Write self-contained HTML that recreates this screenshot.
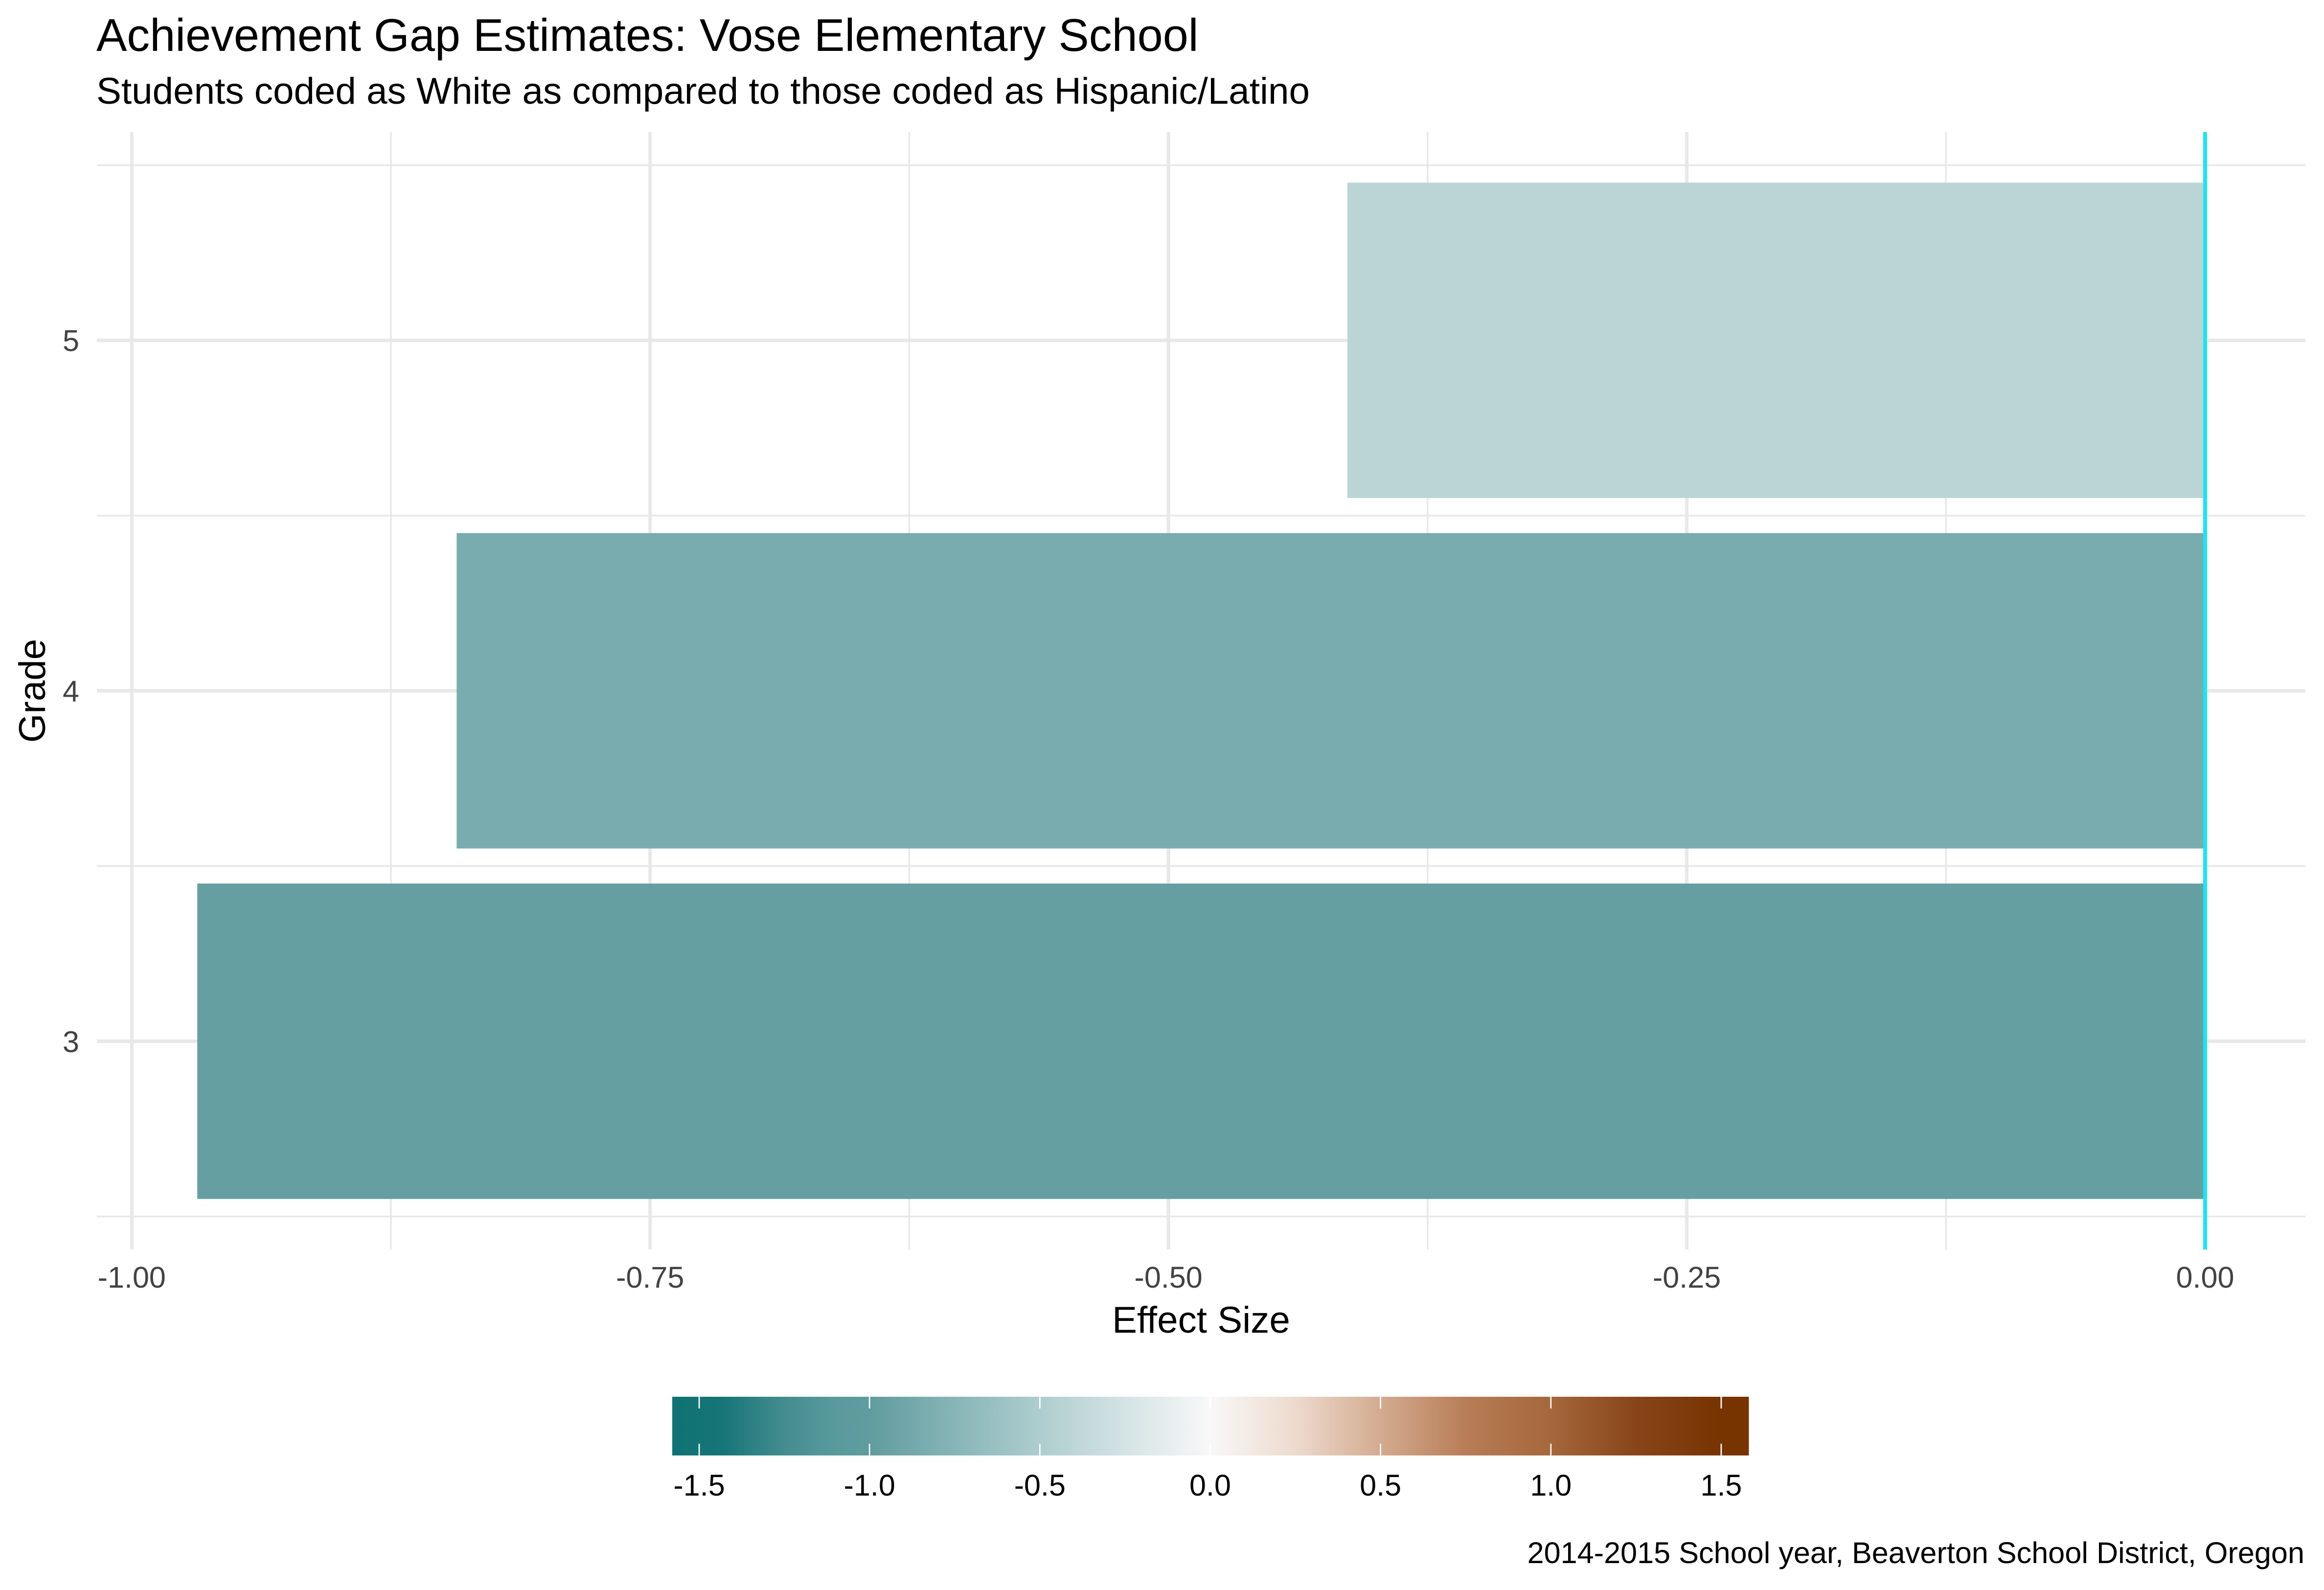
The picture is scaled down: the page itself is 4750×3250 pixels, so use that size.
<!DOCTYPE html>
<html lang="en">
<head>
<meta charset="utf-8">
<title>Achievement Gap Estimates: Vose Elementary School</title>
<style>
  html, body { margin: 0; padding: 0; background: #ffffff; }
  #chart { display: block; width: 4750px; height: 3250px; font-family: "Liberation Sans", Arial, sans-serif; }
</style>
</head>
<body>
<svg id="chart" xmlns="http://www.w3.org/2000/svg" width="4750" height="3250" viewBox="0 0 4750 3250">
  <defs>
    <linearGradient id="legend-gradient" gradientUnits="userSpaceOnUse" x1="1374" x2="3574.5" y1="0" y2="0"></linearGradient>
  </defs>
  <rect x="0" y="0" width="4750" height="3250" fill="#ffffff"/>
  <text x="197" y="104" font-size="93.6" fill="#000000">Achievement Gap Estimates: Vose Elementary School</text>
  <text x="197" y="212" font-size="76.4" fill="#000000">Students coded as White as compared to those coded as Hispanic/Latino</text>
  <g id="grid"></g>
  <g id="bars"></g>
  <g id="ref-line"></g>
  <g id="x-ticks"></g>
  <g id="y-ticks"></g>
  <text x="2455" y="2724" font-size="76.4" text-anchor="middle" fill="#000000">Effect Size</text>
  <text x="92" y="1412" font-size="76.4" text-anchor="middle" fill="#000000" transform="rotate(-90 92 1412)">Grade</text>
  <g id="legend"></g>
  <text x="4710" y="3195" font-size="61.2" text-anchor="end" fill="#000000">2014-2015 School year, Beaverton School District, Oregon</text>
</svg>
<script>
const grades = [3, 4, 5];
const effectSizes = [-0.9684, -0.8433, -0.4137];

const xMajorBreaks = [-1, -0.75, -0.5, -0.25, 0];
const xMinorBreaks = [-0.875, -0.625, -0.375, -0.125];
const xTickLabels = ['-1.00', '-0.75', '-0.50', '-0.25', '0.00'];
const yMinorBreaks = [2.5, 3.5, 4.5, 5.5];
const referenceValue = 0;

const legendBreaks = [-1.5, -1, -0.5, 0, 0.5, 1, 1.5];
const legendTickLabels = ['-1.5', '-1.0', '-0.5', '0.0', '0.5', '1.0', '1.5'];
const fillValues = [-1.58, -1.43, -1.35, -1.25, -1.11, -1, -0.75, -0.5, -0.25, 0, 0.25, 0.5, 0.75, 1, 1.25, 1.5, 1.58];
const fillColors = ['#0f7273', '#167577', '#2b8083', '#448c8f', '#589a9c', '#609c9f', '#87b5b7', '#aecdce', '#d4e3e4', '#f8f8f8', '#eddacd', '#d3ab90', '#b87d57', '#a5673b', '#88451a', '#773300', '#773300'];

const SVG_NS = 'http://www.w3.org/2000/svg';
const panel = { left: 198, right: 4712, top: 270, bottom: 2554 };
const legendBox = { left: 1374, right: 3574.5, top: 2855, bottom: 2975 };

function xScale(v) { return 269.3 + (v + 1) * 4237.7; }
function yScale(v) { return 695.7 + (5 - v) * 716.33; }
function legendScale(v) { return 2473.5 + v * 696.3; }

function hexToRgb(h) {
  return [1, 3, 5].map(function (i) { return parseInt(h.slice(i, i + 2), 16); });
}
function fillScale(v) {
  if (v <= fillValues[0]) return fillColors[0];
  for (let i = 1; i < fillValues.length; i++) {
    if (v <= fillValues[i]) {
      const t = (v - fillValues[i - 1]) / (fillValues[i] - fillValues[i - 1]);
      const a = hexToRgb(fillColors[i - 1]);
      const b = hexToRgb(fillColors[i]);
      return 'rgb(' + a.map(function (c, k) { return Math.round(c + (b[k] - c) * t); }).join(',') + ')';
    }
  }
  return fillColors[fillColors.length - 1];
}
function make(tag, attrs, parent) {
  const el = document.createElementNS(SVG_NS, tag);
  Object.keys(attrs).forEach(function (k) { el.setAttribute(k, attrs[k]); });
  parent.appendChild(el);
  return el;
}

const gridGroup = document.getElementById('grid');
const gridColor = '#e8e8e8';

yMinorBreaks.forEach(function (v) {
  const el = make('line', { x1: panel.left, x2: panel.right, y1: yScale(v), y2: yScale(v), stroke: gridColor, 'stroke-width': 3.6 }, gridGroup);
  
  
});
grades.forEach(function (v) {
  const el = make('line', { x1: panel.left, x2: panel.right, y1: yScale(v), y2: yScale(v), stroke: gridColor, 'stroke-width': 7.2 }, gridGroup);
  
  
});
xMinorBreaks.forEach(function (v) {
  const el = make('line', { x1: xScale(v), x2: xScale(v), y1: panel.top, y2: panel.bottom, stroke: gridColor, 'stroke-width': 3.6 }, gridGroup);
  
  
});
xMajorBreaks.forEach(function (v) {
  const el = make('line', { x1: xScale(v), x2: xScale(v), y1: panel.top, y2: panel.bottom, stroke: gridColor, 'stroke-width': 7.2 }, gridGroup);
  
  
});

const barGroup = document.getElementById('bars');
const barBand = 0.9;
grades.forEach(function (g, i) {
  const v = effectSizes[i];
  const x0 = xScale(Math.min(v, 0));
  const x1 = xScale(Math.max(v, 0));
  const y0 = yScale(g + barBand / 2);
  const y1 = yScale(g - barBand / 2);
  const el = make('rect', { x: x0, y: y0, width: x1 - x0, height: y1 - y0, fill: fillScale(v) }, barGroup);
  
  
});

const refGroup = document.getElementById('ref-line');
const refLine = make('line', { x1: xScale(referenceValue), x2: xScale(referenceValue), y1: panel.top, y2: panel.bottom, stroke: '#1fe4ee', 'stroke-width': 8 }, refGroup);



const xTickGroup = document.getElementById('x-ticks');
xMajorBreaks.forEach(function (v, i) {
  const el = make('text', { x: xScale(v), y: 2632, 'font-size': 61.1, 'text-anchor': 'middle', fill: '#424242' }, xTickGroup);
  el.textContent = xTickLabels[i];
  
  
});

const yTickGroup = document.getElementById('y-ticks');
grades.forEach(function (g) {
  const el = make('text', { x: 162, y: yScale(g) + 22, 'font-size': 61.1, 'text-anchor': 'end', fill: '#424242' }, yTickGroup);
  el.textContent = String(g);
  
  
});

const gradient = document.getElementById('legend-gradient');
fillValues.forEach(function (v, i) {
  make('stop', { offset: (legendScale(v) - legendBox.left) / (legendBox.right - legendBox.left), 'stop-color': fillColors[i] }, gradient);
});

const legendGroup = document.getElementById('legend');
const legendBar = make('rect', { x: legendBox.left, y: legendBox.top, width: legendBox.right - legendBox.left, height: legendBox.bottom - legendBox.top, fill: 'url(#legend-gradient)' }, legendGroup);



legendBreaks.forEach(function (v, i) {
  const x = legendScale(v);
  const tickTop = make('line', { x1: x, x2: x, y1: legendBox.top, y2: legendBox.top + 24, stroke: '#ffffff', 'stroke-width': 2.7 }, legendGroup);
  
  
  const tickBottom = make('line', { x1: x, x2: x, y1: legendBox.bottom - 24, y2: legendBox.bottom, stroke: '#ffffff', 'stroke-width': 2.7 }, legendGroup);
  
  
  const label = make('text', { x: x, y: 3057, 'font-size': 61.1, 'text-anchor': 'middle', fill: '#000000' }, legendGroup);
  label.textContent = legendTickLabels[i];
  
  
});
</script>
</body>
</html>
